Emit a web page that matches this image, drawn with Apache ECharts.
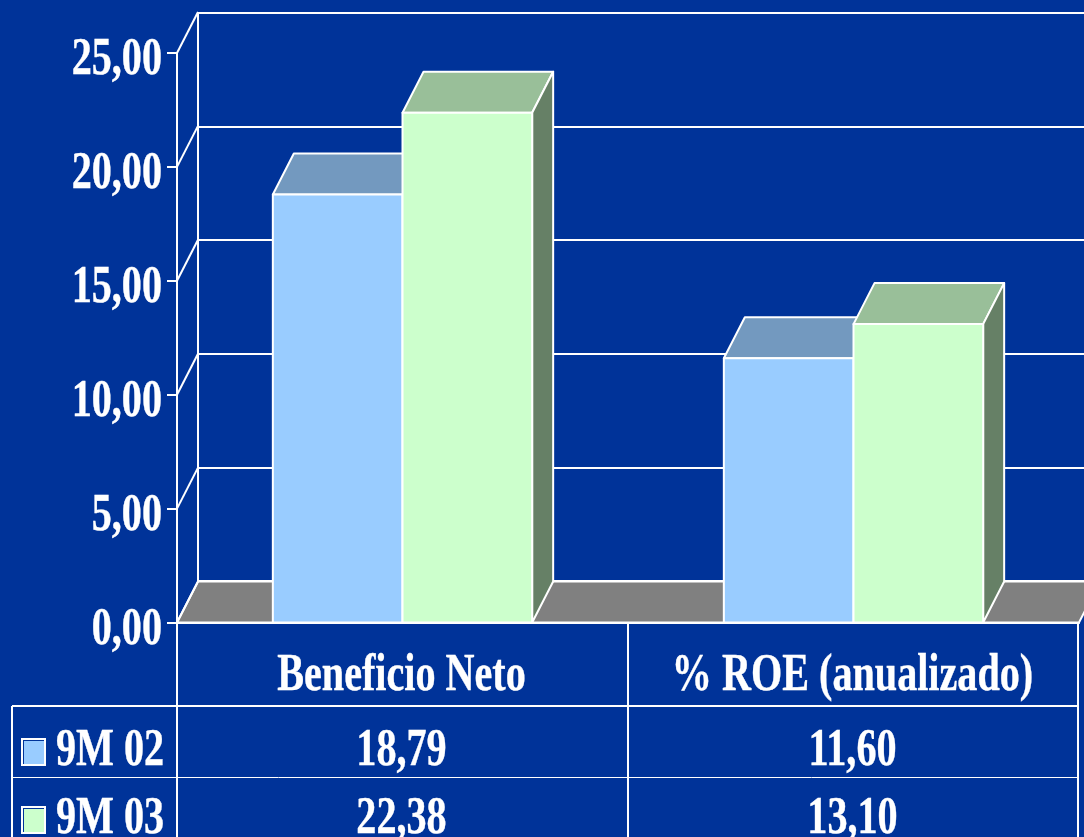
<!DOCTYPE html>
<html>
<head>
<meta charset="utf-8">
<style>
  html, body { margin: 0; padding: 0; background: #003399; }
  #chart { width: 1084px; height: 837px; }
</style>
</head>
<body>
<div id="chart"></div>
<script src="https://cdn.jsdelivr.net/npm/echarts@6/dist/echarts.min.js"></script>
<script>
const categories = ["Beneficio Neto", "% ROE (anualizado)"];
const serie02 = [18.79, 11.6];
const serie03 = [22.38, 13.1];
const serieNames = ["9M 02", "9M 03"];
const yTicks = [0, 5, 10, 15, 20, 25];

const fmt = (v) => v.toFixed(2).replace(".", ",");

const WHITE = "#ffffff";
const FONT = 'bold 52px "Liberation Serif"';
const SQUEEZE = 0.772; // el texto del original esta condensado
const DX = 21; // profundidad 3d
const DY = -41;

const chartDom = document.getElementById("chart");
const myChart = echarts.init(chartDom);

function label(text, x, y, align) {
  return {
    type: "text",
    x: x,
    y: y,
    scaleX: SQUEEZE,
    style: {
      text: text,
      fill: WHITE,
      stroke: WHITE,
      lineWidth: 0.4,
      font: FONT,
      align: align,
      verticalAlign: "middle",
    },
  };
}

function poly(points, fill) {
  return {
    type: "polygon",
    shape: { points: points },
    style: { fill: fill, stroke: WHITE, lineWidth: 2, lineJoin: "round" },
  };
}

// barra 3d: frente, tapa y lateral
function barRender(offset, front, top, side) {
  return function (params, api) {
    const p = api.coord([api.value(0), api.value(1)]);
    const base = api.coord([api.value(0), 0]);
    const w = api.size([1, 0])[0] * 0.2875;
    const x0 = p[0] + offset * w;
    const x1 = x0 + w;
    return {
      type: "group",
      children: [
        poly([[x0, p[1]], [x0 + DX, p[1] + DY], [x1 + DX, p[1] + DY], [x1, p[1]]], top),
        poly([[x1, p[1]], [x1 + DX, p[1] + DY], [x1 + DX, base[1] + DY], [x1, base[1]]], side),
        poly([[x0, p[1]], [x1, p[1]], [x1, base[1]], [x0, base[1]]], front),
      ],
    };
  };
}

// suelo gris
function floorRender(params, api) {
  const y = api.coord([0, 0])[1];
  const x0 = params.coordSys.x;
  const x1 = x0 + params.coordSys.width;
  return poly([[x0, y], [x0 + DX, y + DY], [x1 + DX, y + DY], [x1, y]], "#808080");
}

// diagonales de la pared y etiquetas del eje y
function tickRender(params, api) {
  const v = api.value(0);
  const y = api.coord([0, v])[1];
  const x0 = params.coordSys.x;
  return {
    type: "group",
    children: [
      {
        type: "line",
        shape: { x1: x0, y1: y, x2: x0 + DX, y2: y + DY },
        style: { stroke: WHITE, lineWidth: 2 },
      },
      label(fmt(v), 162, y + 8, "right"),
    ],
  };
}

// textos de la tabla bajo cada categoria
function tableRender(params, api) {
  const i = api.value(0);
  const x = api.coord([i, 0])[0];
  return {
    type: "group",
    children: [
      label(categories[i], x - 1, 677, "center"),
      label(fmt(serie02[i]), x - 1, 752, "center"),
      label(fmt(serie03[i]), x - 1, 820, "center"),
    ],
  };
}

function tableLine(x1, y1, x2, y2, width) {
  return {
    type: "line",
    shape: { x1: x1, y1: y1, x2: x2, y2: y2 },
    style: { stroke: WHITE, lineWidth: width },
  };
}

function swatch(y, color) {
  return [
    { type: "rect", shape: { x: 22, y: y, width: 23, height: 26 }, style: { fill: "#003399", stroke: WHITE, lineWidth: 2 } },
    { type: "rect", shape: { x: 24, y: y + 2, width: 20, height: 23 }, style: { fill: color } },
  ];
}

const option = {
  backgroundColor: "#003399",
  animation: false,
  grid: [
    { left: 177, right: 5, top: 53, bottom: 214.5 },
    { left: 198, right: -15, top: 13, bottom: 256 }, // pared del fondo
  ],
  xAxis: [
    {
      type: "category",
      gridIndex: 0,
      data: categories,
      axisLine: { lineStyle: { color: WHITE, width: 2 } },
      axisTick: { show: false },
      axisLabel: { show: false },
    },
    { type: "category", gridIndex: 1, data: categories, show: false },
  ],
  yAxis: [
    {
      type: "value",
      gridIndex: 0,
      min: 0,
      max: 25,
      interval: 5,
      axisLine: { show: true, lineStyle: { color: WHITE, width: 2 } },
      axisTick: { show: true, length: 10, lineStyle: { color: WHITE, width: 2 } },
      axisLabel: { show: false },
      splitLine: { show: false },
    },
    {
      type: "value",
      gridIndex: 1,
      min: 0,
      max: 25,
      interval: 5,
      axisLine: { show: true, lineStyle: { color: WHITE, width: 2 } },
      axisTick: { show: false },
      axisLabel: { show: false },
      splitLine: { show: true, lineStyle: { color: WHITE, width: 2 } },
    },
  ],
  graphic: {
    elements: [
      {
        type: "group",
        silent: true,
        children: [
          tableLine(177, 622, 177, 837, 2),
          tableLine(628, 622, 628, 837, 2),
          tableLine(1078, 622, 1078, 837, 2),
          tableLine(12, 706, 12, 837, 2),
          tableLine(12, 706, 1078, 706, 2),
          tableLine(12, 777.5, 1078, 777.5, 1),
          ...swatch(739, "#99ccff"),
          ...swatch(807, "#ccffcc"),
          label(serieNames[0], 56, 752, "left"),
          label(serieNames[1], 56, 820, "left"),
        ],
      },
    ],
  },
  series: [
    {
      name: "suelo",
      type: "custom",
      z: 2,
      data: [[0]],
      renderItem: floorRender,
    },
    {
      name: "eje",
      type: "custom",
      z: 3,
      data: yTicks.map((v) => [v]),
      encode: { y: 0 },
      renderItem: tickRender,
    },
    {
      name: serieNames[0],
      type: "custom",
      z: 4,
      data: serie02.map((v, i) => [i, v]),
      encode: { x: 0, y: 1 },
      renderItem: barRender(-1, "#99ccff", "#7399bf", "#4d6680"),
    },
    {
      name: serieNames[1],
      type: "custom",
      z: 5,
      data: serie03.map((v, i) => [i, v]),
      encode: { x: 0, y: 1 },
      renderItem: barRender(0, "#ccffcc", "#99bf99", "#668066"),
    },
    {
      name: "tabla",
      type: "custom",
      z: 6,
      data: categories.map((c, i) => [i]),
      encode: { x: 0 },
      renderItem: tableRender,
    },
  ],
};

myChart.setOption(option);
</script>
</body>
</html>
